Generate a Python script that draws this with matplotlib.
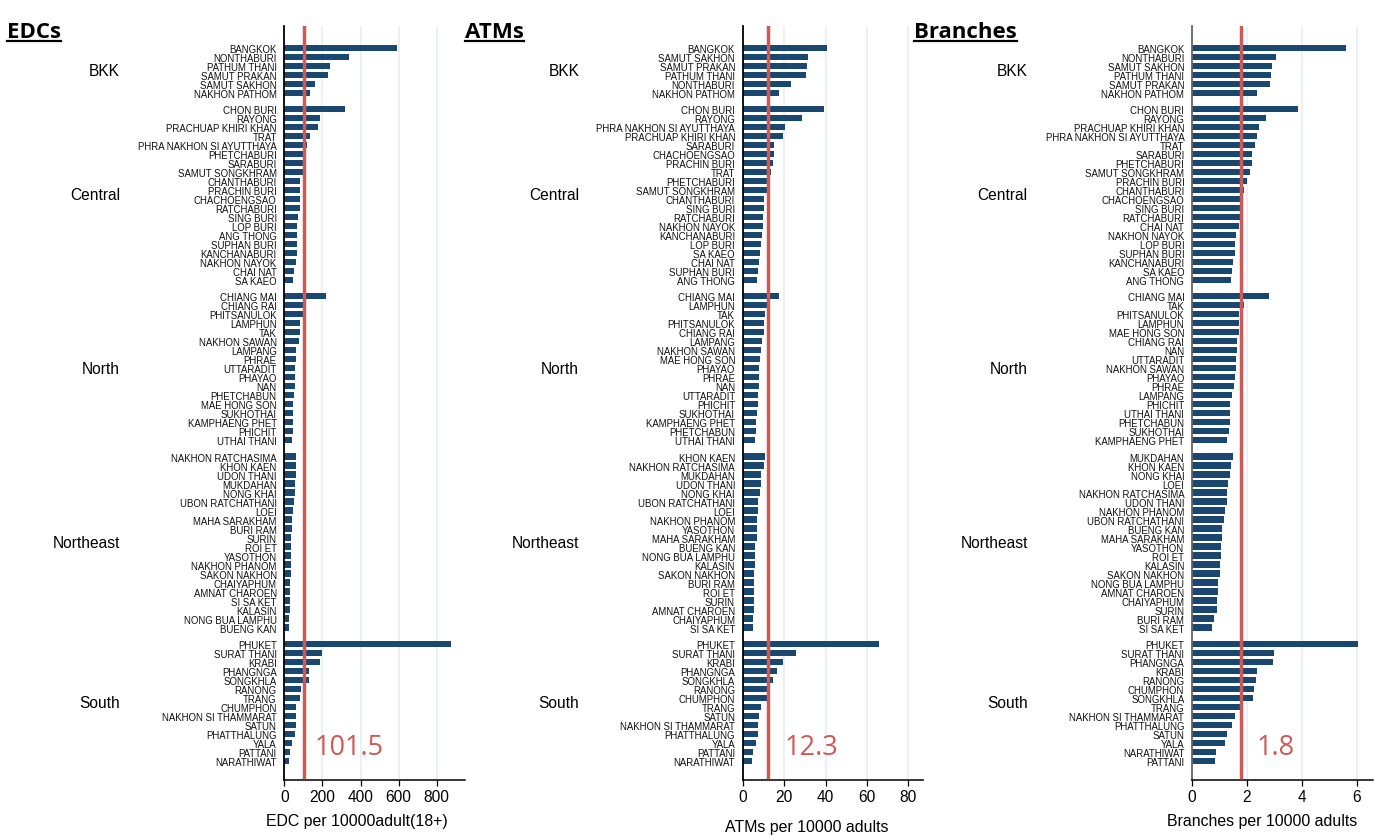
import numpy as np
import matplotlib
matplotlib.use("Agg")
import matplotlib.pyplot as plt
from matplotlib.lines import Line2D
import matplotlib.transforms as mtransforms

# Regions and how many provinces each one holds (same for every panel)
regions = ["BKK", "Central", "North", "Northeast", "South"]
region_sizes = [6, 20, 17, 20, 14]

# EDCs per 10000 adults (18+), sorted within each region
edc_provinces = [
    "BANGKOK", "NONTHABURI", "PATHUM THANI", "SAMUT PRAKAN", "SAMUT SAKHON", "NAKHON PATHOM",
    "CHON BURI", "RAYONG", "PRACHUAP KHIRI KHAN", "TRAT", "PHRA NAKHON SI AYUTTHAYA",
    "PHETCHABURI", "SARABURI", "SAMUT SONGKHRAM", "CHANTHABURI", "PRACHIN BURI",
    "CHACHOENGSAO", "RATCHABURI", "SING BURI", "LOP BURI", "ANG THONG", "SUPHAN BURI",
    "KANCHANABURI", "NAKHON NAYOK", "CHAI NAT", "SA KAEO",
    "CHIANG MAI", "CHIANG RAI", "PHITSANULOK", "LAMPHUN", "TAK", "NAKHON SAWAN", "LAMPANG",
    "PHRAE", "UTTARADIT", "PHAYAO", "NAN", "PHETCHABUN", "MAE HONG SON", "SUKHOTHAI",
    "KAMPHAENG PHET", "PHICHIT", "UTHAI THANI",
    "NAKHON RATCHASIMA", "KHON KAEN", "UDON THANI", "MUKDAHAN", "NONG KHAI",
    "UBON RATCHATHANI", "LOEI", "MAHA SARAKHAM", "BURI RAM", "SURIN", "ROI ET", "YASOTHON",
    "NAKHON PHANOM", "SAKON NAKHON", "CHAIYAPHUM", "AMNAT CHAROEN", "SI SA KET", "KALASIN",
    "NONG BUA LAMPHU", "BUENG KAN",
    "PHUKET", "SURAT THANI", "KRABI", "PHANGNGA", "SONGKHLA", "RANONG", "TRANG", "CHUMPHON",
    "NAKHON SI THAMMARAT", "SATUN", "PHATTHALUNG", "YALA", "PATTANI", "NARATHIWAT",
]
edc_values = [
    589, 339, 240, 230, 160, 135,
    317, 189, 175, 137, 121, 116, 105, 100, 84, 82, 81, 80, 70, 68, 67, 66, 65, 63, 49, 47,
    217, 102, 101, 81, 80, 79, 62, 61, 56, 55, 54, 49, 47, 46, 45, 44, 40,
    64, 62, 60, 56, 55, 51, 46, 42, 39, 37, 36, 35, 34, 33, 32, 31, 30, 29, 26, 25,
    873, 196, 188, 132, 130, 86, 81, 62, 61, 60, 54, 39, 28, 23,
]
edc_average = 101.5

# ATMs per 10000 adults
atm_provinces = [
    "BANGKOK", "SAMUT SAKHON", "SAMUT PRAKAN", "PATHUM THANI", "NONTHABURI", "NAKHON PATHOM",
    "CHON BURI", "RAYONG", "PHRA NAKHON SI AYUTTHAYA", "PRACHUAP KHIRI KHAN", "SARABURI",
    "CHACHOENGSAO", "PRACHIN BURI", "TRAT", "PHETCHABURI", "SAMUT SONGKHRAM", "CHANTHABURI",
    "SING BURI", "RATCHABURI", "NAKHON NAYOK", "KANCHANABURI", "LOP BURI", "SA KAEO",
    "CHAI NAT", "SUPHAN BURI", "ANG THONG",
    "CHIANG MAI", "LAMPHUN", "TAK", "PHITSANULOK", "CHIANG RAI", "LAMPANG", "NAKHON SAWAN",
    "MAE HONG SON", "PHAYAO", "PHRAE", "NAN", "UTTARADIT", "PHICHIT", "SUKHOTHAI",
    "KAMPHAENG PHET", "PHETCHABUN", "UTHAI THANI",
    "KHON KAEN", "NAKHON RATCHASIMA", "MUKDAHAN", "UDON THANI", "NONG KHAI",
    "UBON RATCHATHANI", "LOEI", "NAKHON PHANOM", "YASOTHON", "MAHA SARAKHAM", "BUENG KAN",
    "NONG BUA LAMPHU", "KALASIN", "SAKON NAKHON", "BURI RAM", "ROI ET", "SURIN",
    "AMNAT CHAROEN", "CHAIYAPHUM", "SI SA KET",
    "PHUKET", "SURAT THANI", "KRABI", "PHANGNGA", "SONGKHLA", "RANONG", "CHUMPHON", "TRANG",
    "SATUN", "NAKHON SI THAMMARAT", "PHATTHALUNG", "YALA", "PATTANI", "NARATHIWAT",
]
atm_values = [
    40.6, 31.5, 31.1, 30.4, 23.3, 17.7,
    39.3, 28.5, 20.3, 19.3, 15.3, 15.0, 14.5, 13.5, 13.4, 11.6, 10.3, 10.1, 10.0, 9.8, 9.5,
    9.0, 8.4, 7.9, 7.2, 7.1,
    17.7, 11.6, 10.9, 10.5, 10.4, 9.2, 8.9, 8.2, 8.0, 7.9, 7.7, 7.6, 7.2, 6.9, 6.6, 6.5, 6.1,
    10.6, 10.5, 8.7, 8.6, 8.2, 7.6, 7.2, 6.9, 6.8, 6.7, 6.0, 5.9, 5.8, 5.7, 5.7, 5.6, 5.5,
    5.3, 5.2, 4.8,
    66.0, 25.8, 19.5, 16.4, 14.5, 11.9, 11.8, 8.7, 7.7, 7.6, 7.5, 6.4, 4.8, 4.5,
]
atm_average = 12.3

# Bank branches per 10000 adults
branch_provinces = [
    "BANGKOK", "NONTHABURI", "SAMUT SAKHON", "PATHUM THANI", "SAMUT PRAKAN", "NAKHON PATHOM",
    "CHON BURI", "RAYONG", "PRACHUAP KHIRI KHAN", "PHRA NAKHON SI AYUTTHAYA", "TRAT",
    "SARABURI", "PHETCHABURI", "SAMUT SONGKHRAM", "PRACHIN BURI", "CHANTHABURI",
    "CHACHOENGSAO", "SING BURI", "RATCHABURI", "CHAI NAT", "NAKHON NAYOK", "LOP BURI",
    "SUPHAN BURI", "KANCHANABURI", "SA KAEO", "ANG THONG",
    "CHIANG MAI", "TAK", "PHITSANULOK", "LAMPHUN", "MAE HONG SON", "CHIANG RAI", "NAN",
    "UTTARADIT", "NAKHON SAWAN", "PHAYAO", "PHRAE", "LAMPANG", "PHICHIT", "UTHAI THANI",
    "PHETCHABUN", "SUKHOTHAI", "KAMPHAENG PHET",
    "MUKDAHAN", "KHON KAEN", "NONG KHAI", "LOEI", "NAKHON RATCHASIMA", "UDON THANI",
    "NAKHON PHANOM", "UBON RATCHATHANI", "BUENG KAN", "MAHA SARAKHAM", "YASOTHON", "ROI ET",
    "KALASIN", "SAKON NAKHON", "NONG BUA LAMPHU", "AMNAT CHAROEN", "CHAIYAPHUM", "SURIN",
    "BURI RAM", "SI SA KET",
    "PHUKET", "SURAT THANI", "PHANGNGA", "KRABI", "RANONG", "CHUMPHON", "SONGKHLA", "TRANG",
    "NAKHON SI THAMMARAT", "PHATTHALUNG", "SATUN", "YALA", "NARATHIWAT", "PATTANI",
]
branch_values = [
    5.61, 3.07, 2.93, 2.88, 2.86, 2.36,
    3.86, 2.69, 2.46, 2.36, 2.30, 2.18, 2.17, 2.10, 2.00, 1.91, 1.79, 1.78, 1.75, 1.72,
    1.61, 1.58, 1.56, 1.50, 1.45, 1.42,
    2.80, 1.91, 1.73, 1.72, 1.71, 1.64, 1.63, 1.62, 1.61, 1.55, 1.54, 1.45, 1.40, 1.39,
    1.38, 1.35, 1.27,
    1.48, 1.41, 1.39, 1.30, 1.29, 1.27, 1.19, 1.17, 1.11, 1.08, 1.05, 1.04, 1.03, 1.01,
    0.96, 0.95, 0.92, 0.90, 0.80, 0.73,
    6.06, 3.00, 2.94, 2.38, 2.32, 2.26, 2.23, 1.76, 1.55, 1.45, 1.28, 1.20, 0.86, 0.83,
]
branch_average = 1.8

BAR = "#1a476f"
RED = "#cd5a54"
GRID = "#e6eef2"
W, H = 1391, 837

# bar positions: one unit per province, an extra 0.8 between regions
pos = []
y = 0.0
group_mid = []
for n in region_sizes:
    start = y
    for k in range(n):
        pos.append(y)
        y += 1
    group_mid.append((start + y - 1) / 2)
    y += 0.8
pos = np.array(pos)

fig = plt.figure(figsize=(W / 100, H / 100), dpi=100)
fig.patch.set_facecolor("white")


def px_axes(left, right, top=27, bottom=781):
    return fig.add_axes([left / W, 1 - bottom / H, (right - left) / W, (bottom - top) / H])


def panel(ax, names, values, avg, xmax, xticks, xlabel, label_xy, avg_text_x, spine_col):
    ax.barh(pos, values, height=0.68, color=BAR, edgecolor="none", zorder=2)
    ax.axvline(avg, ymin=0.004, ymax=1, color=RED, lw=2.5, zorder=3)
    ax.set_xlim(0, xmax)
    ax.set_ylim(pos[-1] + 2.14, -2.44)
    ax.set_yticks(pos)
    ax.set_yticklabels(names, fontsize=6.9, family="Liberation Sans", color="#111111")
    ax.tick_params(axis="y", length=0, pad=5.5)
    ax.set_xticks(xticks)
    ax.set_xticklabels([str(t) for t in xticks], fontsize=11.2, family="Liberation Sans")
    ax.tick_params(axis="x", length=4, width=0.9, pad=2.5)
    ax.grid(axis="x", color=GRID, lw=1.2, zorder=0)
    ax.set_axisbelow(True)
    for s in ("top", "right"):
        ax.spines[s].set_visible(False)
    ax.spines["bottom"].set_linewidth(1.1)
    ax.spines["left"].set_linewidth(1.3)
    ax.spines["left"].set_color(spine_col)
    ax.set_xlabel(xlabel, fontsize=11.4, family="Liberation Sans")
    ax.xaxis.set_label_coords(*label_xy)
    ax.xaxis.label.set_va("center")
    # region names to the left of the province labels
    trans = mtransforms.blended_transform_factory(ax.transAxes, ax.transData)
    for r, m in zip(regions, group_mid):
        ax.text(-0.908, m, r, transform=trans, ha="right", va="center",
                fontsize=11.2, family="Liberation Sans")
    ax.text(avg_text_x, pos[-3] + 0.45, f"{avg}", color=RED, fontsize=19.5,
            family="Open Sans", ha="left", va="center", zorder=4)


ax1 = px_axes(284.3, 465.3)
panel(ax1, edc_provinces, edc_values, edc_average, 950, [0, 200, 400, 600, 800],
      "EDC per 10000adult(18+)", (0.399, -0.054), 161, "black")

ax2 = px_axes(742.7, 922.8)
panel(ax2, atm_provinces, atm_values, atm_average, 87, [0, 20, 40, 60, 80],
      "ATMs per 10000 adults", (0.356, -0.062), 20.0, "black")

ax3 = px_axes(1192, 1373)
panel(ax3, branch_provinces, branch_values, branch_average, 6.6, [0, 2, 4, 6],
      "Branches per 10000 adults", (0.39, -0.054), 2.34, "#666666")

# underlined panel titles
titles = []
for x0, t in [(7, "EDCs"), (465, "ATMs"), (914, "Branches")]:
    titles.append(fig.text(x0 / W, 1 - 38 / H, t, fontsize=16, fontweight="bold",
                           family="Open Sans", ha="left", va="baseline"))
fig.canvas.draw()
inv = fig.transFigure.inverted()
for t in titles:
    bb = t.get_window_extent().transformed(inv)
    yl = 1 - 42 / H
    fig.add_artist(Line2D([bb.x0, bb.x1], [yl, yl], color="black", lw=1.6,
                          transform=fig.transFigure))

fig.savefig("out.png", dpi=100, facecolor="white")
